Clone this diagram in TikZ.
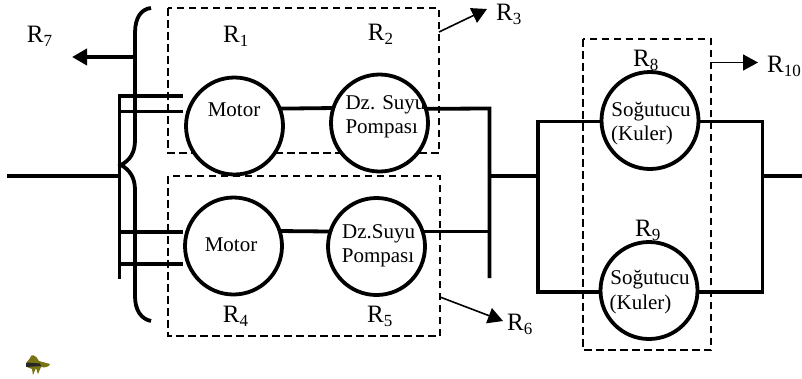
\documentclass[tikz,border=0pt]{standalone}
\usepackage{fontspec}
\setmainfont{Liberation Serif}
\usetikzlibrary{arrows.meta}
\newcommand{\Rlab}[1]{R\raisebox{-4pt}{\fontsize{17}{17}\selectfont #1}}
\definecolor{beeolive}{RGB}{120,115,20}
\tikzset{
  unit/.style={circle,draw=black,fill=white,line width=3.8pt,minimum size=97pt,inner sep=0pt,outer sep=0pt},
  utext/.style={anchor=base,inner sep=0pt,font=\fontsize{21}{21}\selectfont},
  rlab/.style={anchor=base west,inner sep=0pt,font=\fontsize{25}{25}\selectfont},
  region/.style={draw=black,line width=1.5pt,dash pattern=on 7.5pt off 4.5pt},
  wire/.style={draw=black,line width=3.8pt},
  pointer/.style={draw=black,line width=1.6pt,-{Triangle[length=15pt,width=16pt]}},
  bigpointer/.style={draw=black,line width=3.8pt,-{Triangle[length=15pt,width=16pt]}}
}
\begin{document}
\begin{tikzpicture}[x=1pt,y=-1pt]
\useasboundingbox (0,0) rectangle (802,378);
% regions
\draw[region] (168,8) rectangle (439,153);
\draw[region] (168,176) rectangle (440,336);
\draw[region] (583,39) rectangle (711,350);
% units
\node[unit] (m1) at (234.5,126) {};
\node[unit] (p1) at (379.5,123) {};
\node[unit] (m2) at (233.5,246) {};
\node[unit] (p2) at (376.5,246.5) {};
\node[unit] (c1) at (650,120.5) {};
\node[unit] (c2) at (649,290.5) {};
% free ends and junctions
\coordinate (in) at (7,176);
\coordinate (busT) at (119.5,94.1);
\coordinate (busB) at (119.5,279);
\coordinate (busIn) at (119.5,176);
\coordinate (s1b) at (119.5,96);
\coordinate (s1e) at (183,96);
\coordinate (s2b) at (119.5,111.5);
\coordinate (s2e) at (183,111.5);
\coordinate (s3b) at (119.5,232);
\coordinate (s3e) at (183,232);
\coordinate (s4b) at (119.5,264);
\coordinate (s4e) at (183,264);
\coordinate (j1) at (489.5,108.5);
\coordinate (j1b) at (489.5,278);
\coordinate (j1m) at (489.5,176);
\coordinate (j2m) at (538,176);
\coordinate (j2t) at (538,121.5);
\coordinate (j2b) at (538,292);
\coordinate (j3t) at (762.5,121.5);
\coordinate (j3b) at (762.5,292);
\coordinate (j3m) at (762.5,176);
\coordinate (out) at (802,176);
\coordinate (bA) at (151,8);
\coordinate (bB) at (135,33);
\coordinate (bC) at (135,140);
\coordinate (bTip) at (121,165);
\coordinate (bD) at (135,190);
\coordinate (bE) at (135,296);
\coordinate (bF) at (151,321);
\coordinate (b7) at (135,57);
\coordinate (t7) at (72,57);
\coordinate (a3) at (439,32);
\coordinate (t3) at (487,9);
\coordinate (a6) at (440,297);
\coordinate (t6) at (503,321);
\coordinate (a10) at (711,62.5);
\coordinate (t10) at (758,62.5);
% brace
\draw[wire] (bA) .. controls (141,9) and (135,18) .. (bB) -- (bC)
  .. controls (135,153) and (130,160) .. (bTip)
  .. controls (130,170) and (135,178) .. (bD) -- (bE)
  .. controls (135,310) and (141,319) .. (bF);
% bus and wires
\draw[wire] (busT) -- (busB);
\draw[wire] (in) -- (busIn);
\draw[wire] (s1b) -- (s1e);
\draw[wire] (s2b) -- (s2e);
\draw[wire] (s3b) -- (s3e);
\draw[wire] (s4b) -- (s4e);
\draw[wire] (m1.21) -- (p1.162.6);
\draw[wire] (m2.18) -- (p2.162);
\draw[wire,line join=miter] (p1.17.4) -- (j1) -- (j1b);
\draw[wire] (p2.18) -- (j1b |- p2.18);
\draw[wire] (j1m) -- (j2m);
\draw[wire,line join=miter] (c1.west |- j2t) -- (j2t) -- (j2b) -- (c2.west |- j2b);
\draw[wire,line join=miter] (c1.east |- j3t) -- (j3t) -- (j3b) -- (c2.east |- j3b);
\draw[wire] (j3m) -- (out);
% pointers
\draw[bigpointer] (b7) -- (t7);
\draw[pointer] (a3) -- (t3);
\draw[pointer] (a6) -- (t6);
\draw[pointer] (a10) -- (t10);
% unit texts
\node[utext] (tm1) at (234,116) {Motor};
\node[utext] (tm2) at (231,251.7) {Motor};
\node[utext] (tp1a) at (385.5,109) {Dz. Suyu};
\node[utext] (tp1b) at (381.7,133) {Pompası};
\node[utext] (tp2a) at (378.7,238) {Dz.Suyu};
\node[utext] (tp2b) at (378,262.7) {Pompası};
\node[utext] (tc1a) at (651,116) {Soğutucu};
\node[utext] (tc1b) at (642,140.7) {(Kuler)};
\node[utext] (tc2a) at (650,284) {Soğutucu};
\node[utext] (tc2b) at (640.5,309) {(Kuler)};
% R labels
\node[rlab] (R1) at (223,42.7) {\Rlab{1}};
\node[rlab] (R2) at (367.7,40.7) {\Rlab{2}};
\node[rlab] (R3) at (496,20) {\Rlab{3}};
\node[rlab] (R4) at (222.7,322.7) {\Rlab{4}};
\node[rlab] (R5) at (367,322.7) {\Rlab{5}};
\node[rlab] (R6) at (507,330.7) {\Rlab{6}};
\node[rlab] (R7) at (26.7,42.7) {\Rlab{7}};
\node[rlab] (R8) at (633,66.7) {\Rlab{8}};
\node[rlab] (R9) at (635,236.7) {\Rlab{9}};
\node[rlab] (R10) at (767,72) {\Rlab{10}};
% small insect mark
\fill[beeolive] (30,358) .. controls (31,353) and (36,355) .. (39,361) -- (50,364) .. controls (49,367) and (45,368) .. (41,367) -- (38,374) -- (36,368) -- (33,375) -- (32,369) -- (27,367) -- (27,362) -- cycle;
\fill[black!85] (26,362.5) -- (40,363.5) -- (41,366) -- (26,367) -- cycle;
\end{tikzpicture}
\end{document}
